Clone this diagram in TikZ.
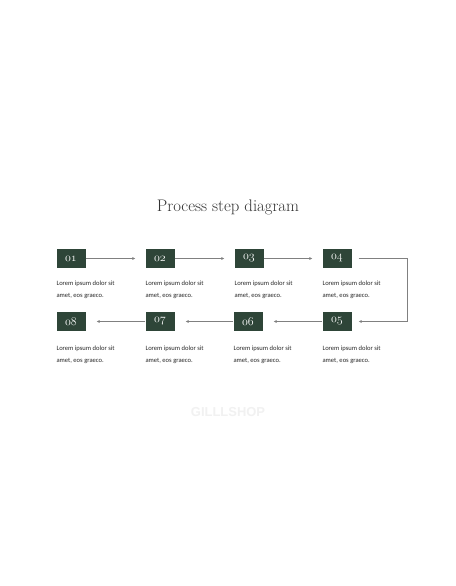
\documentclass[tikz,border=0pt]{standalone}
\usepackage{fontspec}
\newfontfamily\bodyfont{Carlito}
\newfontfamily\markfont{Liberation Sans}
\usetikzlibrary{arrows.meta,calc}
\newcommand{\osn}[1]{{\usefont{OML}{cmm}{m}{it}#1}}
\definecolor{boxgreen}{HTML}{2E4538}
\definecolor{titlegray}{HTML}{333333}
\definecolor{linegray}{HTML}{808080}
\definecolor{textgray}{HTML}{2A2A2A}
\definecolor{markgray}{HTML}{F1F1F1}
\tikzset{
  stepbox/.style={fill=boxgreen,text=white,minimum width=29bp,minimum height=19bp,inner sep=0pt,font=\fontsize{12}{12}\selectfont},
  desc/.style={anchor=north west,inner sep=0pt,align=left,text=textgray,font=\bodyfont\fontsize{6.6}{12}\selectfont},
  conn/.style={draw=linegray,line width=0.5bp,-{Latex[length=3bp,width=3bp]}}
}
\begin{document}
\begin{tikzpicture}[x=1bp,y=-1bp]
\useasboundingbox[fill=white] (0,0) rectangle (456,586);
\node[text=titlegray,font=\fontsize{16.8}{16.8}\selectfont] (title) at (228,207) {Process step diagram};
% row 1
\node[stepbox] (b1) at (71,258.5) {\osn{01}};
\node[stepbox] (b2) at (160,258.5) {\osn{02}};
\node[stepbox] (b3) at (249,258.5) {\osn{03}};
\node[stepbox] (b4) at (337,258.5) {\osn{04}};
% row 2
\node[stepbox] (b5) at (337,321.5) {\osn{05}};
\node[stepbox] (b6) at (248,321.5) {\osn{06}};
\node[stepbox] (b7) at (160,321.5) {\osn{07}};
\node[stepbox] (b8) at (71,321.5) {\osn{08}};
% descriptions
\foreach \b in {1,2,3,4}{
  \node[desc] (t\b) at ($(b\b.south west)+(0,12.5)$) {Lorem ipsum dolor sit\\amet, eos graeco.};
}
\foreach \b in {5,6,7,8}{
  \node[desc] (t\b) at ($(b\b.south west)+(0,14.5)$) {Lorem ipsum dolor sit\\amet, eos graeco.};
}
% connectors
\draw[conn] (b1.east) -- ($(b2.west)+(-10,0)$);
\draw[conn] (b2.east) -- ($(b3.west)+(-10,0)$);
\draw[conn] (b3.east) -- ($(b4.west)+(-10,0)$);
\coordinate (c4) at ($(b4.east)+(7,0)$);
\coordinate (c5) at ($(b5.east)+(7,0)$);
\draw[conn] (c4) -- (407,258.5) |- (c5);
\draw[conn] (b5.west) -- ($(b6.east)+(11,0)$);
\draw[conn] (b6.west) -- ($(b7.east)+(11,0)$);
\draw[conn] (b7.west) -- ($(b8.east)+(11,0)$);
% watermark
\node[text=markgray,font=\markfont\bfseries\fontsize{13}{13}\selectfont] (mark) at (228,412) {GILLLSHOP};
\end{tikzpicture}
\end{document}
